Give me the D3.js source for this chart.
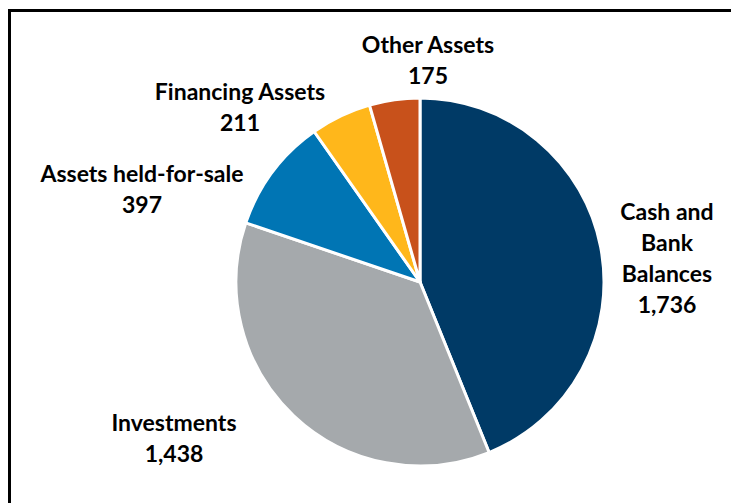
<!DOCTYPE html>
<html>
<head>
<meta charset="utf-8">
<script src="https://cdn.jsdelivr.net/npm/d3@7"></script>
<style>
  body { margin: 0; background: #fff; }
  svg { display: block; }
  .lbl { font-family: Lato, "Open Sans", sans-serif; font-weight: bold; font-size: 23px; fill: #000; }
</style>
</head>
<body>
<div id="chart"></div>
<script>
const categories = ["Cash and Bank Balances", "Investments", "Assets held-for-sale", "Financing Assets", "Other Assets"];
const values = [1736, 1438, 397, 211, 175];
const labelLines = [
    ["Cash and", "Bank", "Balances"],
    ["Investments"],
    ["Assets held-for-sale"],
    ["Financing Assets"],
    ["Other Assets"]
];

const colors = ["#003A66", "#A5A9AC", "#0075B4", "#FFB71B", "#C8511B"];

// label anchor (centre x, first baseline y)
const labelPos = [
    [667, 220],
    [174, 431],
    [142, 182],
    [240, 100],
    [428, 53]
];

const width = 731, height = 503;
const cx = 420, cy = 282, radius = 184;
const lineH = 31;

const svg = d3.select("#chart").append("svg")
    .attr("width", width)
    .attr("height", height);

svg.append("rect")
    .attr("x", 9.5).attr("y", 10.5)
    .attr("width", 760).attr("height", 540)
    .attr("fill", "none")
    .attr("stroke", "#000")
    .attr("stroke-width", 3);

const data = categories.map((c, i) => ({ label: c, value: values[i], i: i }));

const pie = d3.pie().value(d => d.value).sort(null);
const arc = d3.arc().innerRadius(0).outerRadius(radius);

const g = svg.append("g").attr("transform", `translate(${cx},${cy})`);

g.selectAll("path")
    .data(pie(data))
    .join("path")
    .attr("d", arc)
    .attr("fill", d => colors[d.data.i])
    .attr("stroke", "#fff")
    .attr("stroke-width", 3)
    .attr("stroke-linejoin", "round");

const fmt = d3.format(",");

data.forEach((d, i) => {
    const lines = labelLines[i].concat([fmt(d.value)]);
    const t = svg.append("text")
        .attr("class", "lbl")
        .attr("text-anchor", "middle");
    lines.forEach((ln, k) => {
        t.append("tspan")
            .attr("x", labelPos[i][0])
            .attr("y", labelPos[i][1] + k * lineH)
            .text(ln);
    });
});
</script>
</body>
</html>
